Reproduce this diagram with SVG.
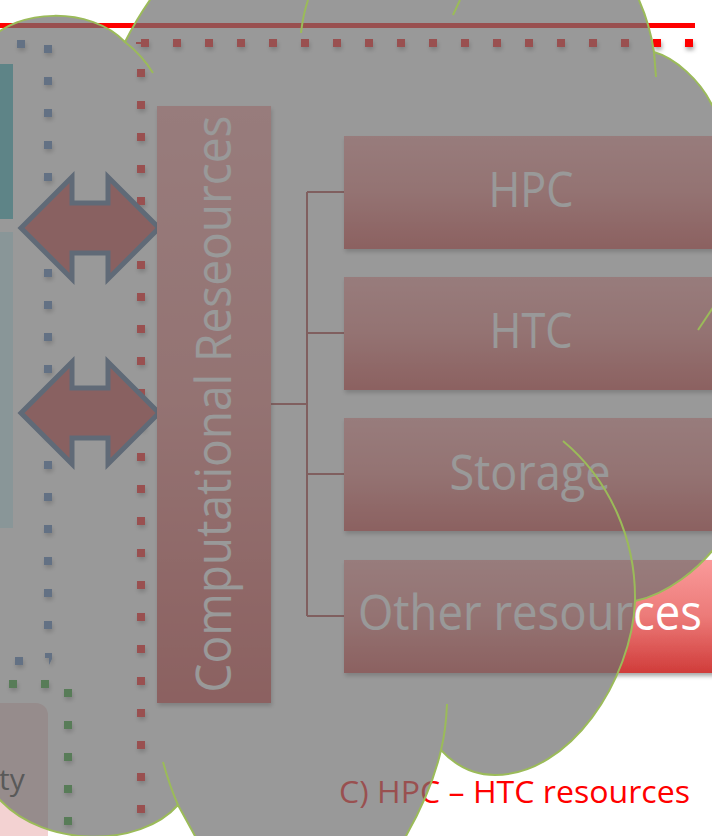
<svg xmlns="http://www.w3.org/2000/svg" width="712" height="836" viewBox="0 0 712 836">
<defs>
<style>
.lbl{font-family:"Open Sans","Liberation Sans",sans-serif;font-weight:400;fill:#ffffff;font-size:50px}
.cap{font-family:"Open Sans","Liberation Sans",sans-serif;fill:#ff0000;font-size:31px}
.rd{fill:#ff0000}
.bl{fill:#4475b5}
.gr{fill:#1a9a1a}
.conn{fill:none;stroke:#a83434;stroke-width:2}
.arrow{fill:#c83c3c;stroke:#385d8a;stroke-width:5;stroke-linejoin:miter}
.stub{fill:none;stroke:#9bbb59;stroke-width:2}
</style>
<linearGradient id="boxg" x1="0" y1="0" x2="0" y2="1">
<stop offset="0" stop-color="#fa9a9a"/>
<stop offset="0.5" stop-color="#ec7a78"/>
<stop offset="1" stop-color="#d03c3a"/>
</linearGradient>
<filter id="sh" x="-10%" y="-10%" width="130%" height="140%">
<feDropShadow dx="1" dy="3" stdDeviation="2" flood-color="#000" flood-opacity="0.35"/>
</filter>
</defs>
<rect x="0" y="0" width="712" height="836" fill="#ffffff"/>

<!-- left side content -->
<g id="left-boxes">
<rect x="-20" y="64" width="33" height="155" fill="#31b5c0"/>
<rect x="-20" y="232" width="33" height="296" fill="#c8f4fa"/>
<rect x="-20" y="703" width="68" height="160" rx="12" fill="#f3d2d2"/>
<text x="-1" y="790" font-family="Open Sans, Liberation Sans, sans-serif" font-size="30" fill="#202020">ty</text>
</g>

<!-- top red line -->
<rect x="0" y="23" width="695" height="5" fill="#ff0000"/>

<!-- dotted frames -->
<g id="dots" filter="url(#sh)">
<rect class="rd" x="136" y="42" width="5" height="2"/>
<rect class="rd" x="141" y="39" width="8" height="8"/><rect class="rd" x="173" y="39" width="8" height="8"/><rect class="rd" x="205" y="39" width="8" height="8"/><rect class="rd" x="237" y="39" width="8" height="8"/><rect class="rd" x="269" y="39" width="8" height="8"/><rect class="rd" x="301" y="39" width="8" height="8"/><rect class="rd" x="333" y="39" width="8" height="8"/><rect class="rd" x="365" y="39" width="8" height="8"/><rect class="rd" x="397" y="39" width="8" height="8"/><rect class="rd" x="429" y="39" width="8" height="8"/><rect class="rd" x="461" y="39" width="8" height="8"/><rect class="rd" x="493" y="39" width="8" height="8"/><rect class="rd" x="525" y="39" width="8" height="8"/><rect class="rd" x="557" y="39" width="8" height="8"/><rect class="rd" x="589" y="39" width="8" height="8"/><rect class="rd" x="621" y="39" width="8" height="8"/><rect class="rd" x="653" y="39" width="8" height="8"/><rect class="rd" x="685" y="39" width="8" height="8"/>
<rect class="rd" x="137" y="69" width="8" height="8"/><rect class="rd" x="137" y="101" width="8" height="8"/><rect class="rd" x="137" y="133" width="8" height="8"/><rect class="rd" x="137" y="165" width="8" height="8"/><rect class="rd" x="137" y="197" width="8" height="8"/><rect class="rd" x="137" y="229" width="8" height="8"/><rect class="rd" x="137" y="261" width="8" height="8"/><rect class="rd" x="137" y="293" width="8" height="8"/><rect class="rd" x="137" y="325" width="8" height="8"/><rect class="rd" x="137" y="357" width="8" height="8"/><rect class="rd" x="137" y="389" width="8" height="8"/><rect class="rd" x="137" y="421" width="8" height="8"/><rect class="rd" x="137" y="453" width="8" height="8"/><rect class="rd" x="137" y="485" width="8" height="8"/><rect class="rd" x="137" y="517" width="8" height="8"/><rect class="rd" x="137" y="549" width="8" height="8"/><rect class="rd" x="137" y="581" width="8" height="8"/><rect class="rd" x="137" y="613" width="8" height="8"/><rect class="rd" x="137" y="645" width="8" height="8"/><rect class="rd" x="137" y="677" width="8" height="8"/><rect class="rd" x="137" y="709" width="8" height="8"/><rect class="rd" x="137" y="741" width="8" height="8"/><rect class="rd" x="137" y="773" width="8" height="8"/><rect class="rd" x="137" y="805" width="8" height="8"/>
<rect class="bl" x="17" y="40" width="8" height="8"/>
<rect class="bl" x="44" y="45" width="8" height="8"/><rect class="bl" x="44" y="77" width="8" height="8"/><rect class="bl" x="44" y="109" width="8" height="8"/><rect class="bl" x="44" y="141" width="8" height="8"/><rect class="bl" x="44" y="173" width="8" height="8"/><rect class="bl" x="44" y="205" width="8" height="8"/><rect class="bl" x="44" y="237" width="8" height="8"/><rect class="bl" x="44" y="269" width="8" height="8"/><rect class="bl" x="44" y="301" width="8" height="8"/><rect class="bl" x="44" y="333" width="8" height="8"/><rect class="bl" x="44" y="365" width="8" height="8"/><rect class="bl" x="44" y="397" width="8" height="8"/><rect class="bl" x="44" y="429" width="8" height="8"/><rect class="bl" x="44" y="461" width="8" height="8"/><rect class="bl" x="44" y="493" width="8" height="8"/><rect class="bl" x="44" y="525" width="8" height="8"/><rect class="bl" x="44" y="557" width="8" height="8"/><rect class="bl" x="44" y="589" width="8" height="8"/><rect class="bl" x="44" y="621" width="8" height="8"/>
<path class="bl" d="M45,653 L52,653 L52,659 L49,665 L49,658 L45,658 Z"/>
<rect class="bl" x="15" y="657" width="8" height="8"/>
<rect class="gr" x="9" y="680" width="8" height="8"/><rect class="gr" x="41" y="680" width="8" height="8"/>
<rect class="gr" x="64" y="689" width="8" height="8"/><rect class="gr" x="64" y="721" width="8" height="8"/><rect class="gr" x="64" y="753" width="8" height="8"/><rect class="gr" x="64" y="785" width="8" height="8"/><rect class="gr" x="64" y="817" width="8" height="8"/>
</g>

<!-- double arrows -->
<g id="arrow-top">
<path class="arrow" d="M21,228 L72,177 L72,203 L108,203 L108,177 L159,228 L108,279 L108,253 L72,253 L72,279 Z"/>
</g>
<g id="arrow-bottom">
<path class="arrow" d="M21,413 L72,362 L72,388 L108,388 L108,362 L159,413 L108,464 L108,438 L72,438 L72,464 Z"/>
</g>

<!-- connectors -->
<g id="connectors">
<path class="conn" d="M271,404 L307,404 M307,192 L307,616 M307,192 L344,192 M307,333 L344,333 M307,474 L344,474 M307,616 L344,616"/>
</g>

<!-- nodes -->
<g id="n-compute">
<rect x="157" y="106" width="114" height="597" fill="url(#boxg)" filter="url(#sh)"/>
<text class="lbl" transform="translate(231,404) rotate(-90)" text-anchor="middle" textLength="577" lengthAdjust="spacingAndGlyphs">Computational Reseources</text>
</g>
<g id="n-hpc">
<rect x="344" y="136" width="380" height="113" fill="url(#boxg)" filter="url(#sh)"/>
<text class="lbl" x="531" y="207" text-anchor="middle" textLength="85" lengthAdjust="spacingAndGlyphs">HPC</text>
</g>
<g id="n-htc">
<rect x="344" y="277" width="380" height="113" fill="url(#boxg)" filter="url(#sh)"/>
<text class="lbl" x="531" y="348" text-anchor="middle" textLength="83" lengthAdjust="spacingAndGlyphs">HTC</text>
</g>
<g id="n-storage">
<rect x="344" y="418" width="380" height="113" fill="url(#boxg)" filter="url(#sh)"/>
<text class="lbl" x="530" y="490" text-anchor="middle" textLength="161" lengthAdjust="spacingAndGlyphs">Storage</text>
</g>
<g id="n-other">
<rect x="344" y="560" width="380" height="113" fill="url(#boxg)" filter="url(#sh)"/>
<text class="lbl" x="530" y="630" text-anchor="middle" textLength="344" lengthAdjust="spacingAndGlyphs">Other resources</text>
</g>

<g id="caption">
<text class="cap" x="339" y="803" textLength="351" lengthAdjust="spacingAndGlyphs">C) HPC – HTC resources</text>
</g>

<!-- cloud overlay -->
<g id="cloud">
<path d="M-10,40 C15,10 90,5 125,42 Q136,20 150,0 L155,-20 L636,-20 L639,0 Q650,25 654,52 C675,58 700,80 712,105 L730,130 L730,535 L722,538 C700,570 665,595 635,601 C632,680 570,775 495,775 C470,775 452,762 441,750 Q432,790 406,836 L400,856 L200,856 L195,836 L178,805 C140,848 45,848 0,800 L-20,780 L-20,44 Z" fill="#707070" fill-opacity="0.714" stroke="#9bbb59" stroke-width="2" stroke-linejoin="round"/>
<path class="stub" d="M125,42 Q142,55 153,73"/>
<path class="stub" d="M301,33 Q303,15 308,0"/>
<path class="stub" d="M453,15 L460,0"/>
<path class="stub" d="M654,52 L656,77"/>
<path class="stub" d="M698,330 L714,306"/>
<path class="stub" d="M563,441 C610,480 636,540 635,601"/>
<path class="stub" d="M447,704 Q446,730 441,750"/>
<path class="stub" d="M163,762 Q170,787 178,805"/>
</g>
</svg>
